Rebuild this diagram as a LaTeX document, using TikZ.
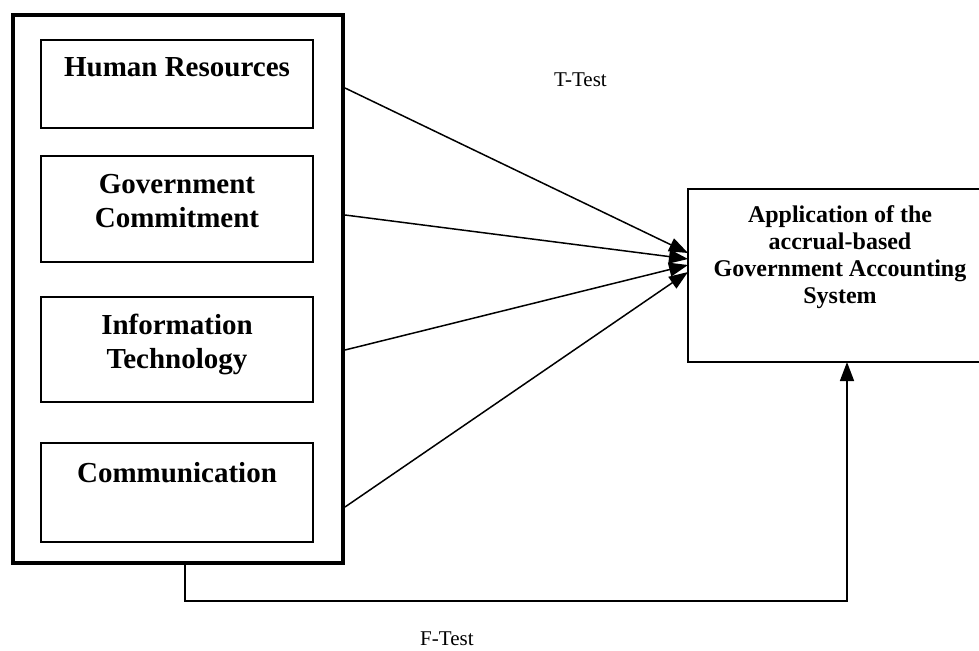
\documentclass[tikz,border=0pt]{standalone}
\usepackage{fontspec}
\setmainfont{Liberation Serif}
\usetikzlibrary{arrows.meta}

\tikzset{
  box/.style={draw, line width=1.4pt, inner sep=0pt},
  boxlabel/.style={font=\fontsize{29}{34}\selectfont\bfseries, align=center, anchor=base, inner sep=0pt},
  dvlabel/.style={font=\fontsize{24}{27}\selectfont\bfseries, align=center, anchor=base, inner sep=0pt},
  testlabel/.style={font=\fontsize{21}{24}\selectfont, anchor=base west, inner sep=0pt},
  link/.style={line width=1.5pt, -{Triangle[length=19pt, width=14pt]}},
}

\begin{document}
\begin{tikzpicture}[x=1pt, y=-1pt]
  \useasboundingbox (0,0) rectangle (979,650);

  % outer frame grouping the four predictors
  \draw[line width=4.5pt] (13,15) rectangle (343,563);
  \coordinate (groupS) at (185,563);

  % predictor boxes
  \draw[box] (41,40) rectangle (313,128);
  \draw[box] (41,156) rectangle (313,262);
  \draw[box] (41,297) rectangle (313,402);
  \draw[box] (41,443) rectangle (313,542);

  % labels (base anchor = baseline of the last line)
  \node[boxlabel] (hr) at (177,77) {Human Resources};
  \node[boxlabel] (gc) at (177,227) {Government\\Commitment};
  \node[boxlabel] (it) at (177,368) {Information\\Technology};
  \node[boxlabel] (cm) at (177,482) {Communication};

  % dependent variable
  \draw[box] (688,189) rectangle (985,362);
  \node[dvlabel] (dv) at (840,303) {Application of the\\accrual-based\\Government Accounting\\System};

  % anchor points for the connectors
  \coordinate (hrE) at (345,88);
  \coordinate (gcE) at (345,215);
  \coordinate (itE) at (345,350);
  \coordinate (cmE) at (345,507);
  \coordinate (tipA) at (688,253);
  \coordinate (tipB) at (688,259);
  \coordinate (tipC) at (688,265);
  \coordinate (tipD) at (688,272);
  \coordinate (dvS) at (847,362);

  % partial tests
  \draw[link] (hrE) -- (tipA);
  \draw[link] (gcE) -- (tipB);
  \draw[link] (itE) -- (tipC);
  \draw[link] (cmE) -- (tipD);

  % simultaneous test
  \draw[link] (groupS) -- (185,601) -- (847,601) -- (dvS);

  \node[testlabel] (tt) at (554,87) {T-Test};
  \node[testlabel] (ft) at (420,645) {F-Test};
\end{tikzpicture}
\end{document}
